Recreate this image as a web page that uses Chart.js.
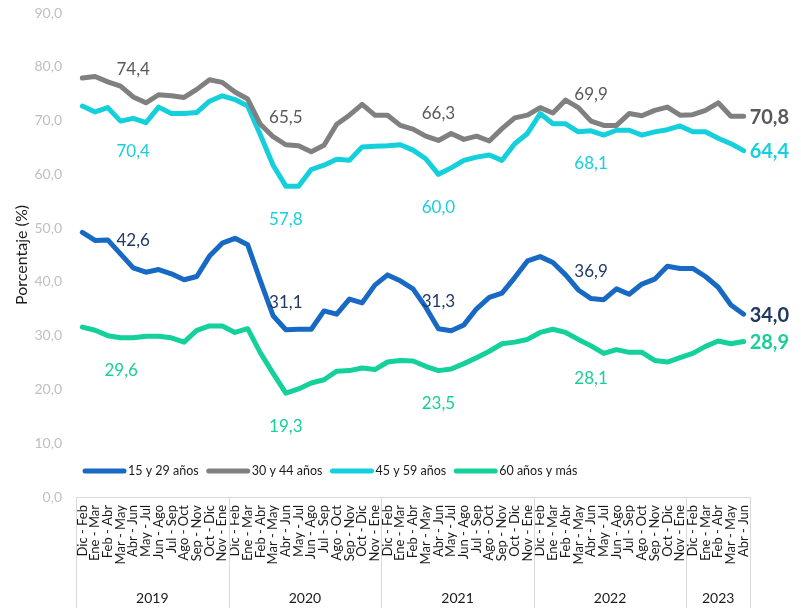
<!DOCTYPE html>
<html>
<head>
<meta charset="utf-8">
<script src="https://cdn.jsdelivr.net/npm/chart.js@4.4.1/dist/chart.umd.min.js"></script>
<style>
  html, body { margin: 0; padding: 0; background: #ffffff; }
  #wrap { width: 801px; height: 608px; position: relative; }
</style>
</head>
<body>
<div id="wrap"><canvas id="grafico"></canvas></div>
<script>
// trimestres moviles, 2019 - 2023
var categorias = [
  'Dic - Feb','Ene - Mar','Feb - Abr','Mar - May','Abr - Jun','May - Jul','Jun - Ago','Jul - Sep','Ago - Oct','Sep - Nov','Oct - Dic','Nov - Ene',
  'Dic - Feb','Ene - Mar','Feb - Abr','Mar - May','Abr - Jun','May - Jul','Jun - Ago','Jul - Sep','Ago - Oct','Sep - Nov','Oct - Dic','Nov - Ene',
  'Dic - Feb','Ene - Mar','Feb - Abr','Mar - May','Abr - Jun','May - Jul','Jun - Ago','Jul - Sep','Ago - Oct','Sep - Nov','Oct - Dic','Nov - Ene',
  'Dic - Feb','Ene - Mar','Feb - Abr','Mar - May','Abr - Jun','May - Jul','Jun - Ago','Jul - Sep','Ago - Oct','Sep - Nov','Oct - Dic','Nov - Ene',
  'Dic - Feb','Ene - Mar','Feb - Abr','Mar - May','Abr - Jun'
];
var anios = ['2019', '2020', '2021', '2022', '2023'];
var mesesPorAnio = [12, 12, 12, 12, 5];

var edad15a29 = [
  49.2, 47.7, 47.8, 45.2, 42.6, 41.8, 42.3, 41.5, 40.4, 41.0, 44.8, 47.2,
  48.1, 46.9, 40.2, 33.7, 31.1, 31.2, 31.2, 34.6, 34.0, 36.8, 36.1, 39.4,
  41.3, 40.2, 38.7, 35.3, 31.3, 30.9, 32.0, 35.0, 37.1, 37.9, 40.8, 43.9,
  44.7, 43.6, 41.3, 38.5, 36.9, 36.7, 38.7, 37.7, 39.6, 40.5, 42.9, 42.5,
  42.5, 41.0, 39.0, 35.7, 34.0
];
var edad30a44 = [
  77.9, 78.2, 77.2, 76.4, 74.4, 73.3, 74.8, 74.6, 74.3, 75.8, 77.6, 77.1,
  75.3, 74.0, 69.3, 67.0, 65.5, 65.3, 64.2, 65.4, 69.3, 71.0, 73.0, 71.0,
  71.0, 69.1, 68.4, 67.1, 66.3, 67.6, 66.5, 67.1, 66.2, 68.5, 70.5, 71.0,
  72.4, 71.4, 73.8, 72.4, 69.9, 69.1, 69.1, 71.3, 70.9, 71.9, 72.5, 71.0,
  71.1, 71.9, 73.3, 70.8, 70.8
];
var edad45a59 = [
  72.7, 71.6, 72.4, 69.9, 70.4, 69.6, 72.5, 71.3, 71.3, 71.5, 73.6, 74.6,
  73.9, 72.7, 67.3, 61.7, 57.8, 57.8, 60.9, 61.7, 62.8, 62.6, 65.1, 65.2,
  65.3, 65.5, 64.5, 62.9, 60.0, 61.2, 62.6, 63.2, 63.6, 62.6, 65.7, 67.6,
  71.3, 69.4, 69.4, 67.9, 68.1, 67.3, 68.2, 68.2, 67.3, 67.9, 68.3, 69.0,
  67.9, 67.9, 66.7, 65.7, 64.4
];
var edad60ymas = [
  31.6, 31.0, 30.0, 29.6, 29.6, 29.9, 29.9, 29.6, 28.8, 31.0, 31.8, 31.8,
  30.6, 31.3, 26.8, 23.0, 19.3, 20.1, 21.2, 21.8, 23.4, 23.5, 24.0, 23.7,
  25.1, 25.4, 25.3, 24.3, 23.5, 23.8, 24.8, 25.9, 27.1, 28.5, 28.8, 29.3,
  30.6, 31.2, 30.6, 29.3, 28.1, 26.7, 27.4, 26.9, 26.9, 25.4, 25.1, 25.9,
  26.7, 28.0, 29.0, 28.5, 28.9
];
// puntos con etiqueta (Abr - Jun de cada año)
var indicesEtiqueta = [4, 16, 28, 40, 52];

var FUENTE = 'Lato, "Liberation Sans", sans-serif';

function coma(v) {
  return v.toFixed(1).replace('.', ',');
}

var series = [
  { label: '15 y 29 años', data: edad15a29, color: '#1769c4', texto: '#203864', dy: -27 },
  { label: '30 y 44 años', data: edad30a44, color: '#808080', texto: '#595959', dy: -27 },
  { label: '45 y 59 años', data: edad45a59, color: '#14cfdc', texto: '#18cfdc', dy: 33 },
  { label: '60 años y más', data: edad60ymas, color: '#14d09a', texto: '#18cf98', dy: 33 }
];

// etiquetas de valores
var pluginEtiquetas = {
  id: 'etiquetas',
  afterDatasetsDraw: function (chart) {
    var ctx = chart.ctx;
    ctx.save();
    ctx.textBaseline = 'middle';
    series.forEach(function (s, di) {
      var meta = chart.getDatasetMeta(di);
      indicesEtiqueta.forEach(function (idx, k) {
        var pt = meta.data[idx];
        var ultimo = (k === indicesEtiqueta.length - 1);
        ctx.fillStyle = s.texto;
        if (ultimo) {
          ctx.font = 'bold 20px ' + FUENTE;
          ctx.textAlign = 'left';
          ctx.fillText(coma(s.data[idx]), pt.x + 6, pt.y + 1);
        } else {
          ctx.font = '17px ' + FUENTE;
          ctx.textAlign = 'center';
          var dx = (di === 3 && k === 0) ? -12 : 0;
          ctx.fillText(coma(s.data[idx]), pt.x + dx, pt.y + s.dy);
        }
      });
    });
    ctx.restore();
  }
};

// leyenda dentro del area del grafico
var pluginLeyenda = {
  id: 'leyendaPropia',
  afterDraw: function (chart) {
    var ctx = chart.ctx;
    ctx.save();
    ctx.font = '12.5px ' + FUENTE;
    ctx.textBaseline = 'middle';
    ctx.textAlign = 'left';
    var x = 85, y = 471;
    series.forEach(function (s) {
      ctx.strokeStyle = s.color;
      ctx.lineWidth = 5;
      ctx.lineCap = 'round';
      ctx.beginPath();
      ctx.moveTo(x, y);
      ctx.lineTo(x + 39, y);
      ctx.stroke();
      ctx.fillStyle = '#1a1a1a';
      ctx.fillText(s.label, x + 43, y);
      x = x + 43 + ctx.measureText(s.label).width + 10;
    });
    ctx.restore();
  }
};

// separadores y años bajo el eje x
var pluginAnios = {
  id: 'anios',
  afterDraw: function (chart) {
    var ctx = chart.ctx;
    var xs = chart.scales.x;
    var area = chart.chartArea;
    var abajo = chart.height;
    ctx.save();
    ctx.strokeStyle = '#d9d9d9';
    ctx.lineWidth = 1;
    var inicio = 0;
    var bordes = [area.left];
    mesesPorAnio.forEach(function (n, i) {
      var fin = inicio + n;
      var xd = (fin < categorias.length)
        ? (xs.getPixelForValue(fin - 1) + xs.getPixelForValue(fin)) / 2
        : area.right;
      bordes.push(xd);
      inicio = fin;
    });
    bordes.forEach(function (bx) {
      ctx.beginPath();
      ctx.moveTo(Math.round(bx) + 0.5, area.bottom);
      ctx.lineTo(Math.round(bx) + 0.5, abajo);
      ctx.stroke();
    });
    ctx.fillStyle = '#1a1a1a';
    ctx.font = '14px ' + FUENTE;
    ctx.textAlign = 'center';
    ctx.textBaseline = 'middle';
    anios.forEach(function (a, i) {
      ctx.fillText(a, (bordes[i] + bordes[i + 1]) / 2, 598);
    });
    ctx.restore();
  }
};

new Chart(document.getElementById('grafico'), {
  type: 'line',
  data: {
    labels: categorias,
    datasets: series.map(function (s) {
      return {
        label: s.label,
        data: s.data,
        borderColor: s.color,
        backgroundColor: s.color,
        borderWidth: 5,
        pointRadius: 0,
        tension: 0,
        borderCapStyle: 'round',
        borderJoinStyle: 'round',
        fill: false
      };
    })
  },
  options: {
    responsive: true,
    maintainAspectRatio: false,
    animation: false,
    layout: { padding: { left: 0, right: 51, top: 13, bottom: 0 } },
    plugins: {
      legend: { display: false },
      tooltip: { enabled: false }
    },
    scales: {
      x: {
        offset: true,
        grid: { display: false, drawTicks: false },
        border: { display: true, color: '#d9d9d9', width: 1 },
        ticks: {
          autoSkip: false,
          minRotation: 90,
          maxRotation: 90,
          padding: 8,
          color: '#1a1a1a',
          font: { family: FUENTE, size: 13 }
        },
        afterFit: function (scale) {
          scale.height = 111;
          scale.paddingLeft = 0;
          scale.paddingRight = 0;
        }
      },
      y: {
        min: 0,
        max: 90,
        grid: { display: false, drawTicks: false },
        border: { display: false },
        ticks: {
          stepSize: 10,
          padding: 14,
          color: '#bfbfbf',
          font: { family: FUENTE, size: 14 },
          callback: function (v) { return coma(v); }
        },
        title: {
          display: true,
          text: 'Porcentaje (%)',
          color: '#1a1a1a',
          font: { family: FUENTE, size: 16 },
          padding: { top: 12, bottom: 0 }
        },
        afterFit: function (scale) {
          scale.width = 76;
          scale.paddingTop = 0;
          scale.paddingBottom = 0;
        }
      }
    }
  },
  plugins: [pluginEtiquetas, pluginLeyenda, pluginAnios]
});
</script>
</body>
</html>
